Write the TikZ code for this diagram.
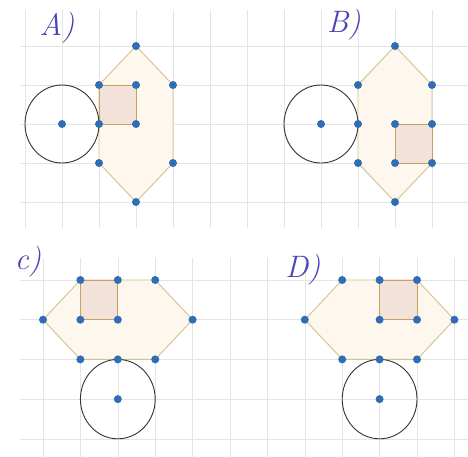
\documentclass[tikz,border=0pt]{standalone}
\definecolor{gridc}{HTML}{E4E4E4}
\definecolor{hexfill}{HTML}{FDF7EE}
\definecolor{hexline}{HTML}{D4C290}
\definecolor{sqfill}{HTML}{F3E2D9}
\definecolor{sqline}{HTML}{C8A060}
\definecolor{dotc}{HTML}{2F6DB5}
\definecolor{inkc}{HTML}{4A44B5}
\tikzset{
  gridline/.style={draw=gridc, line width=0.55pt},
  hexshape/.style={fill=hexfill, draw=hexline, line width=0.9pt, line join=round},
  sqshape/.style={fill=sqfill, draw=sqline, line width=0.9pt},
  ring/.style={draw=black!80, line width=0.9pt},
  dot/.style={circle, fill=dotc, inner sep=0pt, minimum size=8pt},
  lab/.style={text=inkc, font=\fontsize{31}{33}\selectfont\itshape, inner sep=0pt},
}
\begin{document}
\begin{tikzpicture}[x=1pt, y=-1pt]
\useasboundingbox[fill=white] (0,0) rectangle (468,456);
% ---------- top sheet ----------
\begin{scope}[shift={(25,46)}, x=37pt, y=-39pt]
  \foreach \k in {0,...,12} \draw[gridline] (\k,-0.92) -- (\k,4.67);
  \foreach \j in {0,...,4} \draw[gridline] (-0.14,\j) -- (11.97,\j);
  % panel A
  \coordinate (At) at (3,0);
  \coordinate (A21) at (2,1); \coordinate (A31) at (3,1); \coordinate (A41) at (4,1);
  \coordinate (A22) at (2,2); \coordinate (A32) at (3,2);
  \coordinate (A23) at (2,3); \coordinate (A43) at (4,3);
  \coordinate (Ab) at (3,4);
  \coordinate (Ac) at (1,2);
  \draw[hexshape] (At) -- (A41) -- (A43) -- (Ab) -- (A23) -- (A21) -- cycle;
  \draw[sqshape] (A21) -- (A31) -- (A32) -- (A22) -- cycle;
  \draw[ring] (Ac) ellipse [x radius=37pt, y radius=39pt];
  \foreach \p in {At,A21,A31,A41,A22,A32,A23,A43,Ab,Ac} \node[dot] (d\p) at (\p) {};
  % panel B
  \coordinate (Bt) at (10,0);
  \coordinate (B91) at (9,1); \coordinate (B111) at (11,1);
  \coordinate (B92) at (9,2); \coordinate (B102) at (10,2); \coordinate (B112) at (11,2);
  \coordinate (B93) at (9,3); \coordinate (B103) at (10,3); \coordinate (B113) at (11,3);
  \coordinate (Bb) at (10,4);
  \coordinate (Bc) at (8,2);
  \draw[hexshape] (Bt) -- (B111) -- (B113) -- (Bb) -- (B93) -- (B91) -- cycle;
  \draw[sqshape] (B102) -- (B112) -- (B113) -- (B103) -- cycle;
  \draw[ring] (Bc) ellipse [x radius=37pt, y radius=39pt];
  \foreach \p in {Bt,B91,B111,B92,B102,B112,B93,B103,B113,Bb,Bc} \node[dot] (d\p) at (\p) {};
\end{scope}
% ---------- bottom sheet ----------
\begin{scope}[shift={(43,280)}, x=37.4pt, y=-39.7pt]
  \foreach \k in {0,...,11} \draw[gridline] (\k,-0.55) -- (\k,4.45);
  \foreach \j in {0,...,4} \draw[gridline] (-0.61,\j) -- (11.4,\j);
  % panel C
  \coordinate (Cl) at (0,1); \coordinate (Cr) at (4,1);
  \coordinate (C10) at (1,0); \coordinate (C20) at (2,0); \coordinate (C30) at (3,0);
  \coordinate (C11) at (1,1); \coordinate (C21) at (2,1);
  \coordinate (C12) at (1,2); \coordinate (C22) at (2,2); \coordinate (C32) at (3,2);
  \coordinate (Cc) at (2,3);
  \draw[hexshape] (Cl) -- (C10) -- (C30) -- (Cr) -- (C32) -- (C12) -- cycle;
  \draw[sqshape] (C10) -- (C20) -- (C21) -- (C11) -- cycle;
  \draw[ring] (Cc) ellipse [x radius=37.4pt, y radius=39.7pt];
  \foreach \p in {Cl,Cr,C10,C20,C30,C11,C21,C12,C22,C32,Cc} \node[dot] (d\p) at (\p) {};
  % panel D
  \coordinate (Dl) at (7,1); \coordinate (Dr) at (11,1);
  \coordinate (D80) at (8,0); \coordinate (D90) at (9,0); \coordinate (D100) at (10,0);
  \coordinate (D91) at (9,1); \coordinate (D101) at (10,1);
  \coordinate (D82) at (8,2); \coordinate (D92) at (9,2); \coordinate (D102) at (10,2);
  \coordinate (Dc) at (9,3);
  \draw[hexshape] (Dl) -- (D80) -- (D100) -- (Dr) -- (D102) -- (D82) -- cycle;
  \draw[sqshape] (D90) -- (D100) -- (D101) -- (D91) -- cycle;
  \draw[ring] (Dc) ellipse [x radius=37.4pt, y radius=39.7pt];
  \foreach \p in {Dl,Dr,D80,D90,D100,D91,D101,D82,D92,D102,Dc} \node[dot] (d\p) at (\p) {};
\end{scope}
% ---------- labels ----------
\node[lab] (labA) at (57,28) {A)};
\node[lab] (labB) at (344,25) {B)};
\node[lab] (labC) at (28,262) {c)};
\node[lab] (labD) at (303,270) {D)};
\end{tikzpicture}
\end{document}
